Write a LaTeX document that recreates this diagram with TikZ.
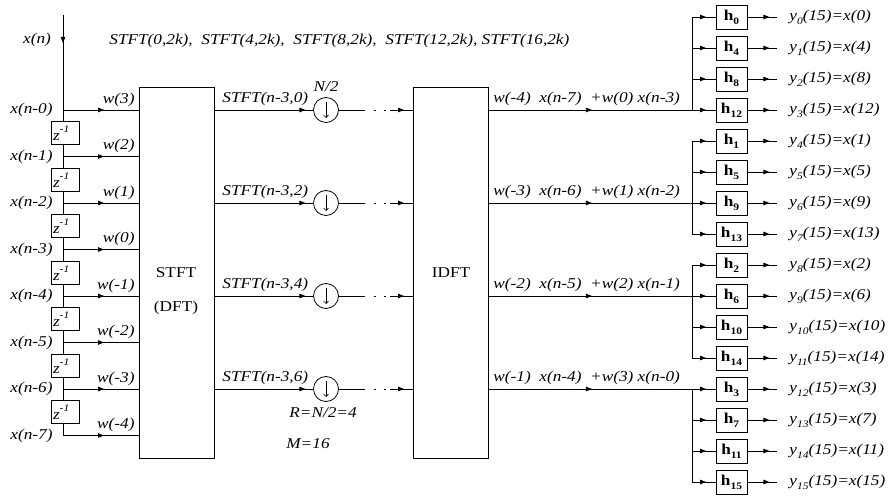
\documentclass[tikz,border=0pt]{standalone}
\usepackage{fontspec}
\setmainfont{Liberation Serif}[FakeStretch=1.15]
\usetikzlibrary{arrows.meta,decorations.markings}
\newcommand\mysub[1]{\raisebox{-4pt}{\fontsize{10}{10}\selectfont #1}}
\newcommand\mysup[1]{\raisebox{8pt}{\fontsize{10}{10}\selectfont #1}}
\tikzset{
  every node/.style={font=\fontsize{15}{17}\selectfont},
  lbl/.style={font=\fontsize{15}{17}\selectfont\itshape, inner sep=1pt},
  arrowat/.style={postaction={decorate}, decoration={markings, mark=at position #1 with {\arrow{Triangle[length=6pt,width=4.5pt]}}}},
  zbox/.style={draw, fill=white, minimum width=28pt, minimum height=23pt, inner sep=1.5pt, text width=24pt, align=left},
  hbox/.style={draw, minimum width=31pt, minimum height=24pt, inner sep=0pt},
  blk/.style={draw, minimum width=75pt, minimum height=371pt, inner sep=0pt},
  dsamp/.style={draw, circle, minimum size=25pt, inner sep=0pt},
}
\begin{document}
\begin{tikzpicture}[x=1pt,y=-1pt,line width=0.8pt]
\useasboundingbox (0,0) rectangle (888,502);
% blocks
\node[blk] (stft) at (176.5,272.5) {};
\node[blk] (idft) at (451,272.5) {};
\node (stftt) at (176,273) {STFT};
\node (dftt) at (176,308) {(DFT)};
\node (idftt) at (451,273) {IDFT};
% input
\coordinate (in) at (63,15);
\node[lbl] (xn) at (37,40) {x(n)};
\node[lbl,anchor=west] (top) at (108,41) {STFT(0,2k),\ \ STFT(4,2k),\ \ STFT(8,2k),\ \ STFT(12,2k), STFT(16,2k)};
\foreach \k/\w in {0/3,1/2,2/1,3/0,4/-1,5/-2,6/-3,7/-4}{
  \coordinate (t\k) at (63,{110+46.5*\k});
  \node[lbl,anchor=east] (xl\k) at (54,{110+46.5*\k}) {x(n-\k)};
  \node[lbl,anchor=south east] (wl\k) at (136,{108+46.5*\k}) {w(\w)};
}
\draw[arrowat=28pt] (in) -- (t7);
\foreach \k in {0,...,7}{ \draw[arrowat=41pt] (t\k) -- (t\k -| stft.west); }
\foreach \k in {0,...,6}{ \node[zbox] (z\k) at (65,{133.25+46.5*\k}) {\itshape z\mysup{-1}}; }
% downsamplers
\foreach \j/\c/\lab in {0/0/{w(-4)\ \ x(n-7)\ \ +w(0) x(n-3)},1/2/{w(-3)\ \ x(n-6)\ \ +w(1) x(n-2)},2/4/{w(-2)\ \ x(n-5)\ \ +w(2) x(n-1)},3/6/{w(-1)\ \ x(n-4)\ \ +w(3) x(n-0)}}{
  \node[dsamp] (ds\j) at (326,{110+93*\j}) {};
  \draw[-{Straight Barb[length=2.5pt,width=5pt]}, line width=0.6pt] ([yshift=8pt]ds\j.center) -- ([yshift=-8pt]ds\j.center);
  \node[lbl,anchor=south west] (sl\j) at (221,{107+93*\j}) {STFT(n-3,\c)};
  \draw[arrowat=91pt] (t\c -| stft.east) -- (ds\j.west);
  \coordinate (a\j) at (365,{110+93*\j});
  \draw (ds\j.east) -- (a\j);
  \coordinate (da\j) at (374,{110+93*\j});
  \coordinate (db\j) at (376,{110+93*\j});
  \coordinate (dc\j) at (384,{110+93*\j});
  \coordinate (dd\j) at (386,{110+93*\j});
  \draw (da\j) -- (db\j);
  \draw (dc\j) -- (dd\j);
  \coordinate (b\j) at (390,{110+93*\j});
  \draw[arrowat=14pt] (b\j) -- (b\j -| idft.west);
  \coordinate (br\j) at (692,{110+93*\j});
  \draw[arrowat=103pt] (b\j -| idft.east) -- (br\j);
  \node[lbl,anchor=south west] (rl\j) at (492,{107+93*\j}) {\lab};
  \coordinate (vt\j) at (692,{17+124*\j});
  \coordinate (vb\j) at (692,{110+124*\j});
  \draw (vt\j) -- (vb\j);
}
\node[lbl] (n2) at (326,87) {N/2};
\node[lbl] (rr) at (323,413) {R=N/2=4};
\node[lbl] (mm) at (308,444) {M=16};
% output filters
\foreach \i/\h in {0/0,1/4,2/8,3/12,4/1,5/5,6/9,7/13,8/2,9/6,10/10,11/14,12/3,13/7,14/11,15/15}{
  \coordinate (v\i) at (692,{17+31*\i});
  \node[hbox] (h\i) at (731.5,{17+31*\i}) {\bfseries h\mysub{\h}};
  \draw[arrowat=14pt] (v\i) -- (h\i.west);
  \coordinate (o\i) at (777,{17+31*\i});
  \draw[arrowat=22pt] (h\i.east) -- (o\i);
  \node[lbl,anchor=west] (yl\i) at (788,{17+31*\i}) {y\mysub{\i}(15)=x(\h)};
}
\end{tikzpicture}
\end{document}
